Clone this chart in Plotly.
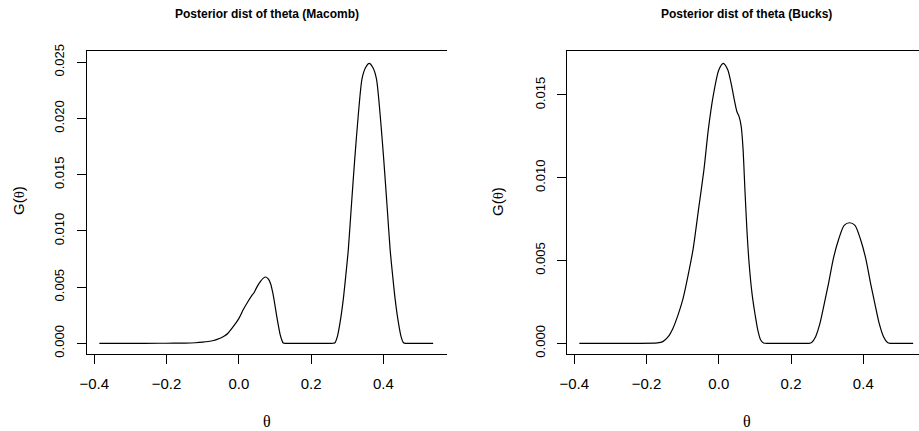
import plotly.graph_objects as go

# ---- data ----
macomb_theta = [-0.386, -0.30, -0.22, -0.18, -0.15, -0.12, -0.10, -0.085, -0.07, -0.06,
                -0.05, -0.04, -0.03, -0.015, 0.0, 0.0125, 0.025, 0.035, 0.042, 0.050,
                0.060, 0.068, 0.0745, 0.082, 0.088, 0.094, 0.100, 0.105, 0.110, 0.115,
                0.119, 0.123, 0.130, 0.200, 0.258, 0.266, 0.273, 0.281, 0.289, 0.296,
                0.303, 0.311, 0.321, 0.331, 0.341, 0.351, 0.361, 0.371, 0.381, 0.391,
                0.401, 0.411, 0.419, 0.426, 0.433, 0.441, 0.449, 0.456, 0.463, 0.500,
                0.538]
macomb_density = [0.0, 0.0, 0.000005, 0.00001, 0.00002, 0.00005, 0.0001, 0.00016, 0.00025, 0.00035,
                  0.00047, 0.00065, 0.0009, 0.0015, 0.0022, 0.0030, 0.0037, 0.0042, 0.0045, 0.0050,
                  0.0055, 0.0058, 0.0059, 0.0057, 0.0053, 0.0045, 0.0034, 0.0024, 0.0015, 0.0007,
                  0.0003, 0.00003, 0.0, 0.0, 0.0, 0.00005, 0.00062, 0.00199, 0.00386, 0.00598,
                  0.00829, 0.01195, 0.01643, 0.02042, 0.02353, 0.02453, 0.0249, 0.02453, 0.02353, 0.02042,
                  0.01643, 0.01195, 0.00829, 0.00598, 0.00386, 0.00199, 0.00062, 0.00005, 0.0, 0.0,
                  0.0]

bucks_theta = [-0.386, -0.25, -0.17, -0.155, -0.14, -0.127, -0.113, -0.099, -0.085, -0.071,
               -0.056, -0.041, -0.029, -0.015, 0.0, 0.0125, 0.025, 0.035, 0.043, 0.050,
               0.056, 0.062, 0.067, 0.0725, 0.078, 0.084, 0.092, 0.100, 0.108, 0.116,
               0.124, 0.131, 0.19, 0.243, 0.250, 0.257, 0.268, 0.280, 0.292, 0.304,
               0.317, 0.332, 0.347, 0.362, 0.377, 0.392, 0.407, 0.420, 0.432, 0.444,
               0.456, 0.467, 0.474, 0.481, 0.51, 0.538]
bucks_density = [0.0, 0.0, 0.00002, 0.0001, 0.0004, 0.0009, 0.0017, 0.0027, 0.0041, 0.0057,
                 0.0081, 0.0105, 0.0129, 0.0150, 0.0165, 0.0169, 0.0165, 0.0156, 0.0147, 0.0140,
                 0.0137, 0.0131, 0.0118, 0.0092, 0.0068, 0.0048, 0.0030, 0.0018, 0.0008, 0.0002,
                 0.00002, 0.0, 0.0, 0.0, 0.0, 0.00005, 0.0004, 0.0012, 0.0024, 0.00364,
                 0.0051, 0.0063, 0.00712, 0.00728, 0.00712, 0.0063, 0.0051, 0.00364, 0.0024, 0.0012,
                 0.0004, 0.00005, 0.0, 0.0, 0.0, 0.0]

x_ticks = [-0.4, -0.2, 0.0, 0.2, 0.4]
x_tick_labels = ["\u22120.4", "\u22120.2", "0.0", "0.2", "0.4"]
macomb_y_ticks = [0.0, 0.005, 0.010, 0.015, 0.020, 0.025]
macomb_y_labels = ["0.000", "0.005", "0.010", "0.015", "0.020", "0.025"]
bucks_y_ticks = [0.0, 0.005, 0.010, 0.015]
bucks_y_labels = ["0.000", "0.005", "0.010", "0.015"]

titles = ["Posterior dist of theta (Macomb)", "Posterior dist of theta (Bucks)"]

W, H = 919, 431
SANS = "Liberation Sans, Arial, Helvetica, sans-serif"
SERIF = "Liberation Serif, DejaVu Serif, serif"

fig = go.Figure()
fig.add_trace(go.Scatter(x=macomb_theta, y=macomb_density, mode="lines",
                         line=dict(color="black", width=1.2, shape="spline", smoothing=0.7),
                         xaxis="x", yaxis="y", showlegend=False, hoverinfo="skip"))
fig.add_trace(go.Scatter(x=bucks_theta, y=bucks_density, mode="lines",
                         line=dict(color="black", width=1.2, shape="spline", smoothing=0.7),
                         xaxis="x2", yaxis="y2", showlegend=False, hoverinfo="skip"))

def px_x(p):
    return p / W

def px_y(p):
    return 1 - p / H

common_x = dict(showgrid=False, zeroline=False, showline=True, mirror=True, automargin=False,
                linecolor="black", linewidth=1, ticks="outside", ticklen=9,
                tickcolor="black", tickwidth=1, tickvals=x_ticks, ticktext=x_tick_labels,
                tickfont=dict(family=SANS, size=15, color="black"), ticklabelstandoff=7)
common_y = dict(showgrid=False, zeroline=False, showline=True, mirror=False, automargin=False,
                linecolor="black", linewidth=1, ticks="outside", ticklen=9,
                tickcolor="black", tickwidth=1, tickangle=-90,
                tickfont=dict(family=SANS, size=13, color="black"), ticklabelstandoff=7)

fig.update_layout(
    template="none",
    width=W, height=H, margin=dict(l=0, r=0, t=0, b=0, pad=0, autoexpand=False),
    paper_bgcolor="white", plot_bgcolor="white",
    xaxis=dict(domain=[px_x(86.5), px_x(447)], range=[-0.4216, 0.5763], anchor="y", **common_x),
    yaxis=dict(domain=[px_y(354), px_y(51)], range=[-0.00095, 0.0260], anchor="x",
               tickvals=macomb_y_ticks, ticktext=macomb_y_labels, **common_y),
    xaxis2=dict(domain=[px_x(566.7), 1.0], range=[-0.421, 0.5542], anchor="y2", **common_x),
    yaxis2=dict(domain=[px_y(354), px_y(51)], range=[-0.000646, 0.01765], anchor="x2",
                tickvals=bucks_y_ticks, ticktext=bucks_y_labels, **common_y),
)

theta = "<span style='font-family:Liberation Serif'>\u03b8</span>"
ann = []
# panel titles
for cx, t in [(266.5, titles[0]), (746.5, titles[1])]:
    ann.append(dict(text="<b>" + t + "</b>", x=px_x(cx), y=px_y(14), xref="paper", yref="paper",
                    showarrow=False, xanchor="center", yanchor="middle",
                    font=dict(family=SANS, size=12, color="black")))
# x axis titles
for cx in [266.5, 746.5]:
    ann.append(dict(text="\u03b8", x=px_x(cx), y=px_y(421), xref="paper", yref="paper",
                    showarrow=False, xanchor="center", yanchor="middle",
                    font=dict(family=SERIF, size=16, color="black")))
# y axis titles
for cx in [18, 497]:
    ann.append(dict(text="G(" + theta + ")", x=px_x(cx), y=px_y(201), xref="paper", yref="paper",
                    showarrow=False, xanchor="center", yanchor="middle", textangle=-90,
                    font=dict(family=SANS, size=15, color="black")))
fig.update_layout(annotations=ann)

fig.write_html("out.html", config={"displayModeBar": False, "staticPlot": True},
               post_script="document.body.style.margin='0px';document.body.style.overflow='hidden';")
